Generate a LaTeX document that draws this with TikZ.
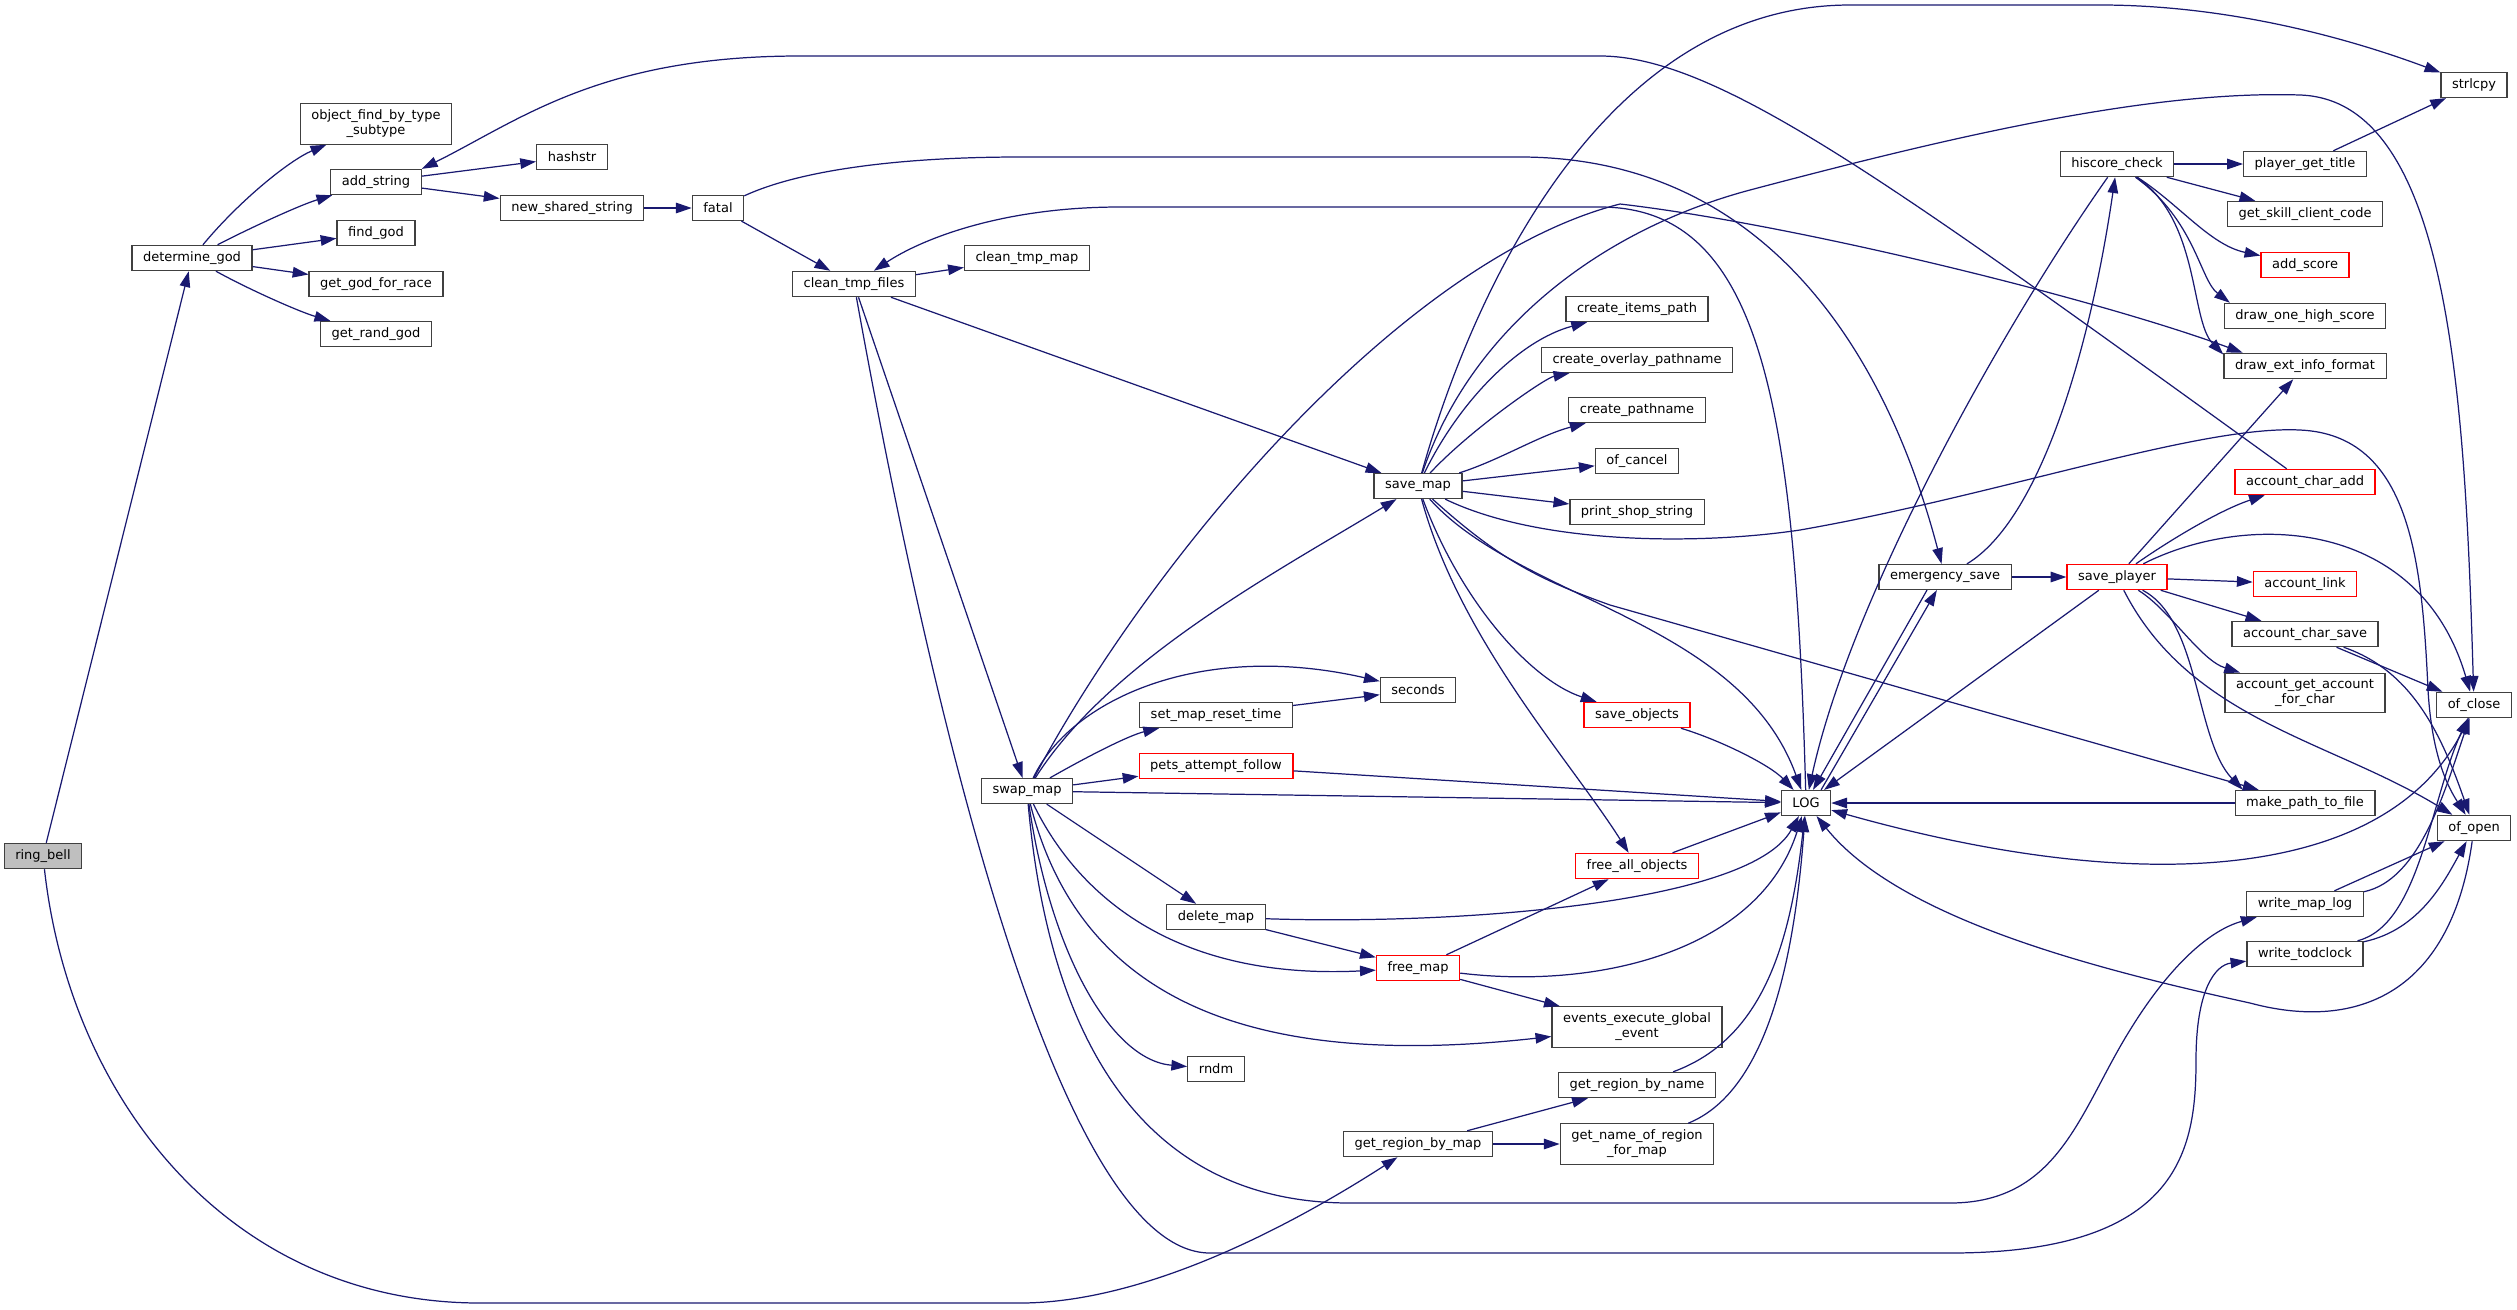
\documentclass[tikz,border=0pt]{standalone}
\usepackage{fontspec}
\setmainfont{DejaVu Sans}
\usetikzlibrary{arrows.meta}
\definecolor{callblue}{HTML}{191970}
\definecolor{boxgray}{HTML}{404040}
\begin{document}
\begin{tikzpicture}[x=0.02cm, y=-0.02cm]
    % Define the styles for the functions and calls
    \tikzstyle{func}=[rectangle, draw=boxgray, line width=0.7pt, fill=white, align=center, font=\fontsize{7.4}{8.6}\selectfont, inner xsep=6.3pt, inner ysep=3.5pt, minimum height=14.2pt]
    \tikzstyle{funcred}=[func, draw=red]
    \tikzstyle{funcroot}=[func, fill=black!25]
    \tikzstyle{call}=[draw=callblue, line width=0.7pt, -{Triangle[length=9pt, width=6pt]}]

    \useasboundingbox (0,0) rectangle (2517,1309);

    % Draw the functions
    \node[funcroot] (ring_bell) at (43, 856) {ring\_bell};
    \node[func] (determine_god) at (192, 258) {determine\_god};
    \node[func] (object_find) at (376, 124) {object\_find\_by\_type\\\_subtype};
    \node[func] (add_string) at (376, 182) {add\_string};
    \node[func] (find_god) at (376, 233) {find\_god};
    \node[func] (get_god_for_race) at (376, 284) {get\_god\_for\_race};
    \node[func] (get_rand_god) at (376, 334) {get\_rand\_god};
    \node[func] (hashstr) at (572, 157) {hashstr};
    \node[func] (new_shared_string) at (572, 208) {new\_shared\_string};
    \node[func] (fatal) at (718, 208) {fatal};
    \node[func] (clean_tmp_files) at (854, 284) {clean\_tmp\_files};
    \node[func] (clean_tmp_map) at (1027, 258) {clean\_tmp\_map};
    \node[func] (swap_map) at (1027, 791) {swap\_map};
    \node[func] (save_map) at (1418, 486) {save\_map};
    \node[func] (seconds) at (1418, 690) {seconds};
    \node[func] (set_map_reset_time) at (1216, 715) {set\_map\_reset\_time};
    \node[funcred] (pets_attempt_follow) at (1216, 766) {pets\_attempt\_follow};
    \node[func] (delete_map) at (1216, 917) {delete\_map};
    \node[func] (rndm) at (1216, 1069) {rndm};
    \node[funcred] (free_map) at (1418, 968) {free\_map};
    \node[func] (get_region_by_map) at (1418, 1144) {get\_region\_by\_map};
    \node[func] (create_items_path) at (1637, 309) {create\_items\_path};
    \node[func] (create_overlay_pathname) at (1637, 360) {create\_overlay\_pathname};
    \node[func] (create_pathname) at (1637, 410) {create\_pathname};
    \node[func] (of_cancel) at (1637, 461) {of\_cancel};
    \node[func] (print_shop_string) at (1637, 512) {print\_shop\_string};
    \node[funcred] (save_objects) at (1637, 715) {save\_objects};
    \node[funcred] (free_all_objects) at (1637, 866) {free\_all\_objects};
    \node[func] (events_execute_global_event) at (1637, 1027) {events\_execute\_global\\\_event};
    \node[func] (get_region_by_name) at (1637, 1085) {get\_region\_by\_name};
    \node[func] (get_name_of_region_for_map) at (1637, 1144) {get\_name\_of\_region\\\_for\_map};
    \node[func] (LOG) at (1806, 803) {LOG};
    \node[func] (emergency_save) at (1945, 577) {emergency\_save};
    \node[func] (hiscore_check) at (2117, 164) {hiscore\_check};
    \node[funcred] (save_player) at (2117, 577) {save\_player};
    \node[func] (player_get_title) at (2305, 164) {player\_get\_title};
    \node[func] (get_skill_client_code) at (2305, 214) {get\_skill\_client\_code};
    \node[funcred] (add_score) at (2305, 265) {add\_score};
    \node[func] (draw_one_high_score) at (2305, 316) {draw\_one\_high\_score};
    \node[func] (draw_ext_info_format) at (2305, 366) {draw\_ext\_info\_format};
    \node[funcred] (account_char_add) at (2305, 482) {account\_char\_add};
    \node[funcred] (account_link) at (2305, 584) {account\_link};
    \node[func] (account_char_save) at (2305, 634) {account\_char\_save};
    \node[func] (account_get_account_for_char) at (2305, 693) {account\_get\_account\\\_for\_char};
    \node[func] (make_path_to_file) at (2305, 803) {make\_path\_to\_file};
    \node[func] (write_map_log) at (2305, 904) {write\_map\_log};
    \node[func] (write_todclock) at (2305, 954) {write\_todclock};
    \node[func] (strlcpy) at (2474, 85) {strlcpy};
    \node[func] (of_close) at (2474, 705) {of\_close};
    \node[func] (of_open) at (2474, 828) {of\_open};

    % Draw the calls from ring_bell and determine_god
    \draw[call] (ring_bell) -- (determine_god);
    \draw[call] (ring_bell) .. controls (70,1100) and (230,1303) .. (480,1303) -- (1020,1303) .. controls (1150,1303) and (1300,1220) .. (get_region_by_map);
    \draw[call] (determine_god) .. controls (240,200) and (290,160) .. (object_find);
    \draw[call] (determine_god) .. controls (250,228) and (300,205) .. (add_string);
    \draw[call] (determine_god) -- (find_god);
    \draw[call] (determine_god) -- (get_god_for_race);
    \draw[call] (determine_god) .. controls (250,290) and (300,312) .. (get_rand_god);
    \draw[call] (add_string) -- (hashstr);
    \draw[call] (add_string) -- (new_shared_string);
    \draw[call] (new_shared_string) -- (fatal);
    \draw[call] (fatal) -- (clean_tmp_files);
    \draw[call] (fatal) .. controls (800,170) and (900,157) .. (1020,157) -- (1520,157) .. controls (1750,157) and (1880,330) .. (emergency_save);

    % Draw the calls from clean_tmp_files and swap_map
    \draw[call] (clean_tmp_files) -- (clean_tmp_map);
    \draw[call] (clean_tmp_files) -- (save_map);
    \draw[call] (clean_tmp_files) -- (swap_map);
    \draw[call] (clean_tmp_files) .. controls (920,650) and (1050,1253) .. (1210,1253) -- (1950,1253) .. controls (2180,1253) and (2196,1150) .. (2196,1060) .. controls (2196,990) and (2215,965) .. (write_todclock);
    \draw[call] (LOG) .. controls (1795,400) and (1760,207) .. (1600,207) -- (1120,207) .. controls (1000,207) and (920,240) .. (clean_tmp_files);
    \draw[call] (swap_map) .. controls (1110,660) and (1280,570) .. (save_map);
    \draw[call] (swap_map) .. controls (1150,560) and (1400,260) .. (1620,204) .. controls (1800,225) and (2100,300) .. (draw_ext_info_format.168);
    \draw[call] (swap_map) .. controls (1070,700) and (1200,640) .. (seconds);
    \draw[call] (swap_map) .. controls (1090,755) and (1130,735) .. (set_map_reset_time);
    \draw[call] (swap_map) -- (pets_attempt_follow);
    \draw[call] (swap_map) -- (LOG);
    \draw[call] (swap_map) -- (delete_map);
    \draw[call] (swap_map) .. controls (1080,900) and (1180,980) .. (free_map);
    \draw[call] (swap_map) .. controls (1080,1000) and (1250,1070) .. (events_execute_global_event);
    \draw[call] (swap_map) .. controls (1050,950) and (1110,1060) .. (rndm);
    \draw[call] (swap_map) .. controls (1050,1050) and (1150,1203) .. (1350,1203) -- (1950,1203) .. controls (2060,1203) and (2080,1110) .. (2130,1030) .. controls (2170,965) and (2210,930) .. (write_map_log);
    \draw[call] (set_map_reset_time) -- (seconds);
    \draw[call] (pets_attempt_follow) -- (LOG);
    \draw[call] (delete_map) -- (free_map);
    \draw[call] (delete_map) .. controls (1450,925) and (1750,905) .. (LOG);
    \draw[call] (free_map) .. controls (1600,990) and (1760,950) .. (LOG);
    \draw[call] (free_map) -- (free_all_objects);
    \draw[call] (free_map) -- (events_execute_global_event);

    % Draw the calls from save_map
    \draw[call] (save_map) .. controls (1460,400) and (1520,340) .. (create_items_path);
    \draw[call] (save_map) .. controls (1470,430) and (1545,378) .. (create_overlay_pathname);
    \draw[call] (save_map) .. controls (1500,460) and (1540,435) .. (create_pathname);
    \draw[call] (save_map) -- (of_cancel);
    \draw[call] (save_map) -- (print_shop_string);
    \draw[call] (save_map) .. controls (1470,300) and (1600,5) .. (1850,5) -- (2100,5) .. controls (2250,5) and (2380,50) .. (strlcpy);
    \draw[call] (save_map) .. controls (1470,330) and (1600,230) .. (1750,190) .. controls (1950,137) and (2150,90) .. (2300,95) .. controls (2450,100) and (2465,400) .. (of_close);
    \draw[call] (save_map) .. controls (1520,600) and (1740,620) .. (LOG);
    \draw[call] (save_map) .. controls (1460,600) and (1530,680) .. (save_objects);
    \draw[call] (save_map) .. controls (1460,640) and (1570,760) .. (free_all_objects);
    \draw[call] (save_map) .. controls (1500,560) and (1540,580) .. (1610,605) -- (make_path_to_file);
    \draw[call] (save_map) .. controls (1540,545) and (1700,545) .. (1800,530) .. controls (2000,495) and (2200,425) .. (2300,430) .. controls (2410,435) and (2422,560) .. (2428,690) .. controls (2432,760) and (2450,790) .. (of_open);

    % Draw the calls from hiscore_check, emergency_save and save_player
    \draw[call] (hiscore_check) -- (player_get_title);
    \draw[call] (hiscore_check) -- (get_skill_client_code);
    \draw[call] (hiscore_check) .. controls (2180,205) and (2210,245) .. (add_score);
    \draw[call] (hiscore_check) .. controls (2195,220) and (2200,280) .. (draw_one_high_score.170);
    \draw[call] (hiscore_check) .. controls (2200,220) and (2190,320) .. (draw_ext_info_format.172);
    \draw[call] (hiscore_check) .. controls (2000,330) and (1850,600) .. (LOG);
    \draw[call] (player_get_title) -- (strlcpy);
    \draw[call] (emergency_save) .. controls (2040,520) and (2090,350) .. (hiscore_check);
    \draw[call] (emergency_save) -- (save_player);
    \draw[call] (emergency_save.-144) -- (LOG.62);
    \draw[call] (LOG.41) -- (emergency_save.-122);
    \draw[call] (save_player) -- (LOG);
    \draw[call] (save_player) -- (draw_ext_info_format);
    \draw[call] (save_player) .. controls (2170,540) and (2220,510) .. (account_char_add);
    \draw[call] (save_player) .. controls (2250,510) and (2420,520) .. (of_close);
    \draw[call] (save_player) -- (account_link);
    \draw[call] (save_player) -- (account_char_save);
    \draw[call] (save_player) .. controls (2170,610) and (2200,660) .. (account_get_account_for_char);
    \draw[call] (save_player) .. controls (2200,620) and (2195,740) .. (make_path_to_file.168);
    \draw[call] (save_player) .. controls (2190,720) and (2330,740) .. (of_open);
    \draw[call] (account_char_add) .. controls (1900,190) and (1720,56) .. (1600,56) -- (800,56) .. controls (600,56) and (520,120) .. (add_string.16);
    \draw[call] (account_char_save) -- (of_close);
    \draw[call] (account_char_save) .. controls (2410,670) and (2440,730) .. (of_open);

    % Draw the calls that end in of_close, of_open and LOG
    \draw[call] (write_map_log) .. controls (2420,880) and (2445,790) .. (of_close);
    \draw[call] (write_map_log) -- (of_open);
    \draw[call] (write_todclock) .. controls (2420,925) and (2430,800) .. (of_close);
    \draw[call] (write_todclock) .. controls (2420,930) and (2445,880) .. (of_open);
    \draw[call] (of_close) .. controls (2400,880) and (2150,900) .. (LOG);
    \draw[call] (of_open) .. controls (2450,1000) and (2350,1030) .. (2250,1003) .. controls (2100,970) and (1900,920) .. (LOG);
    \draw[call] (make_path_to_file) -- (LOG);
    \draw[call] (save_objects) .. controls (1720,740) and (1770,765) .. (LOG);
    \draw[call] (free_all_objects) -- (LOG);
    \draw[call] (get_region_by_name) .. controls (1760,1040) and (1790,950) .. (LOG);
    \draw[call] (get_name_of_region_for_map) .. controls (1770,1090) and (1795,950) .. (LOG);
    \draw[call] (get_region_by_map) -- (get_region_by_name);
    \draw[call] (get_region_by_map) -- (get_name_of_region_for_map);
\end{tikzpicture}
\end{document}
